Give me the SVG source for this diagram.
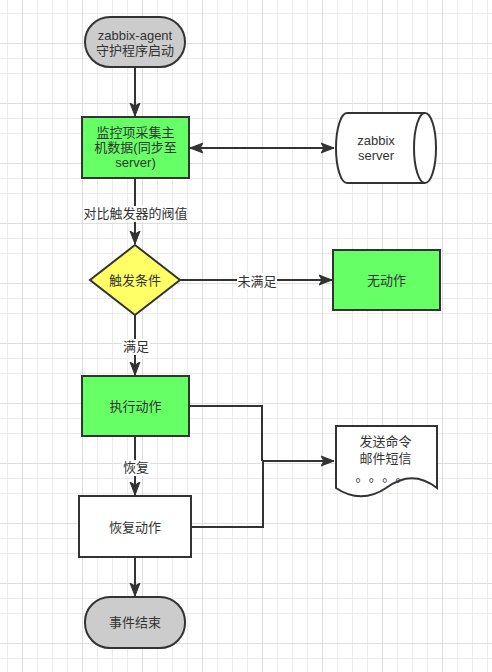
<svg xmlns="http://www.w3.org/2000/svg" width="492" height="672" viewBox="0 0 492 672">
<style>
.t{font-family:"Liberation Sans","Noto Sans CJK SC",sans-serif;font-size:13px;fill:#333333;text-anchor:middle}
.s{stroke:#333333;stroke-width:2}
.c{fill:none;stroke:#333333;stroke-width:2}
.lb{fill:#ffffff}
</style>
<defs>
<pattern id="grid" x="7" y="13" width="60" height="60" patternUnits="userSpaceOnUse">
<path d="M0.5,0V60M30.5,0V60M45.5,0V60M0,0.5H60M0,30.5H60M0,45.5H60" fill="none" stroke="#ececec" stroke-width="1"/>
<path d="M15.5,0V60M0,30.5H60" fill="none" stroke="#dedede" stroke-width="1"/>
</pattern>
<marker id="arr" markerUnits="userSpaceOnUse" markerWidth="14" markerHeight="12" viewBox="0 0 14 12" refX="13" refY="6" orient="auto-start-reverse">
<path d="M0,1 L13,6 L0,11 L3,6 Z" fill="#333333" stroke="#333333" stroke-width="1"/>
</marker>
</defs>
<rect width="492" height="672" fill="#ffffff"/>
<rect width="492" height="672" fill="url(#grid)"/>
<g id="connectors">
<path class="c" d="M135,67 V116" marker-end="url(#arr)"/>
<path class="c" d="M190,148 H334" marker-start="url(#arr)" marker-end="url(#arr)"/>
<path class="c" d="M135,178 V244" marker-end="url(#arr)"/>
<path class="c" d="M180,280 H332" marker-end="url(#arr)"/>
<path class="c" d="M135,315 V375" marker-end="url(#arr)"/>
<path class="c" d="M135,436 V495" marker-end="url(#arr)"/>
<path class="c" d="M135,557 V596" marker-end="url(#arr)"/>
<path class="c" d="M189,406 H262 V461"/>
<path class="c" d="M191,527 H263 V461 H334" marker-end="url(#arr)"/>
<rect class="lb" x="84" y="206" width="103" height="16"/>
<text class="t" x="135.5" y="218">对比触发器的阀值</text>
<rect class="lb" x="237" y="273" width="40" height="16"/>
<text class="t" x="257" y="285.5">未满足</text>
<rect class="lb" x="122" y="339" width="28" height="16"/>
<text class="t" x="136" y="351">满足</text>
<rect class="lb" x="122" y="460" width="28" height="16"/>
<text class="t" x="136" y="472">恢复</text>
</g>
<g id="start">
<rect class="s" x="85" y="17" width="100" height="50" rx="25" fill="#cccccc"/>
<text class="t" x="135" y="39.5">zabbix-agent</text>
<text class="t" x="135" y="54.5">守护程序启动</text>
</g>
<g id="collect">
<rect class="s" x="82" y="117" width="107" height="61" fill="#66ff66"/>
<text class="t" x="135.5" y="136.5">监控项采集主</text>
<text class="t" x="135.5" y="152">机数据(同步至</text>
<text class="t" x="135.5" y="166.5">server)</text>
</g>
<g id="server">
<path class="s" d="M347,113 L425,113 A11,35 0 0 1 425,183 L347,183 A11,35 0 0 1 347,113 Z" fill="#ffffff"/>
<path class="c" d="M425,113 A11,35 0 0 0 425,183"/>
<text class="t" x="376" y="145">zabbix</text>
<text class="t" x="376" y="159.5">server</text>
</g>
<g id="condition">
<path class="s" d="M135,245 L180,280 L135,315 L90,280 Z" fill="#ffff66"/>
<text class="t" x="135" y="284.5">触发条件</text>
</g>
<g id="noaction">
<rect class="s" x="333" y="250" width="107" height="60" fill="#66ff66"/>
<text class="t" x="386.5" y="284.5">无动作</text>
</g>
<g id="execute">
<rect class="s" x="82" y="376" width="107" height="60" fill="#66ff66"/>
<text class="t" x="135.5" y="410.5">执行动作</text>
</g>
<g id="recover">
<rect class="s" x="79" y="496" width="112" height="61" fill="#ffffff"/>
<text class="t" x="135" y="531.5">恢复动作</text>
</g>
<g id="notify">
<path class="s" d="M336,426 L437,426 L437,488 C420,475 404,475 386,488 C370,499 352,499 336,488 Z" fill="#ffffff"/>
<text class="t" x="385.5" y="446">发送命令</text>
<text class="t" x="385.5" y="462.5">邮件短信</text>
<text class="t" x="362 375.3 388.7 402" y="481">。。。。</text>
</g>
<g id="end">
<rect class="s" x="85" y="597" width="100" height="51" rx="25" fill="#cccccc"/>
<text class="t" x="135" y="627">事件结束</text>
</g>
</svg>
